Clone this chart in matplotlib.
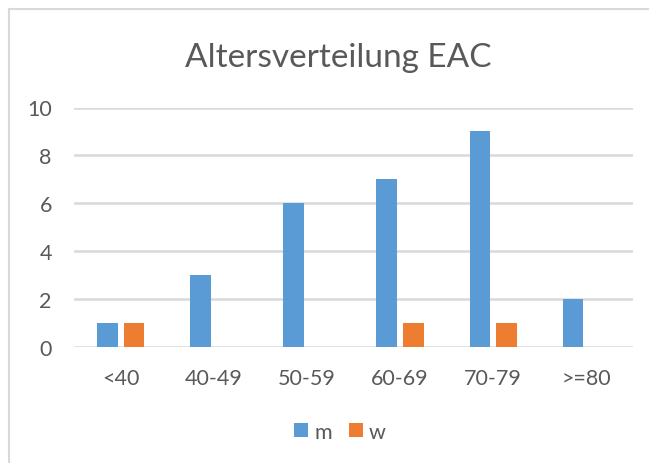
import matplotlib
matplotlib.use("Agg")
import matplotlib.pyplot as plt
from matplotlib.lines import Line2D
import numpy as np

categories = ["<40", "40-49", "50-59", "60-69", "70-79", ">=80"]
m_values = [1, 3, 6, 7, 9, 2]
w_values = [1, 0, 0, 1, 1, 0]
y_ticks = [0, 2, 4, 6, 8, 10]

BLUE = "#5B9BD5"
ORANGE = "#ED7D31"
TEXT = "#595959"
GRID = "#D9D9D9"

plt.rcParams["font.family"] = ["Lato", "DejaVu Sans"]

W, H = 649, 464
fig = plt.figure(figsize=(W / 100, H / 100), dpi=100)
fig.patch.set_facecolor("white")

# chart frame (top and left edges visible)
fig.add_artist(Line2D([9 / W, 9 / W], [0, 1 - 10 / H], color=GRID, lw=1.5))
fig.add_artist(Line2D([9 / W, 1], [1 - 10 / H, 1 - 10 / H], color=GRID, lw=1.5))

left, right = 74 / W, 633 / W
bottom, top = 1 - 348 / H, 1 - 108.5 / H
ax = fig.add_axes([left, bottom, right - left, top - bottom])

x = np.arange(len(categories))
bw = 0.222
off = 0.143
ax.bar(x - off, m_values, bw, color=BLUE, label="m", zorder=3)
ax.bar(x + off, w_values, bw, color=ORANGE, label="w", zorder=3)

ax.set_xlim(-0.5, len(categories) - 0.5)
ax.set_ylim(0, 10)
ax.set_yticks(y_ticks)
ax.set_xticks(x)
ax.set_xticklabels(categories)
ax.yaxis.grid(True, color=GRID, lw=1.8, zorder=0)
ax.set_axisbelow(True)
for s in ax.spines.values():
    s.set_visible(False)
ax.tick_params(axis="both", length=0, colors=TEXT, labelsize=15.5)
ax.tick_params(axis="x", pad=15)
ax.tick_params(axis="y", pad=16)

fig.text(338 / W, 1 - 66.7 / H, "Altersverteilung EAC", ha="center", va="baseline",
         fontsize=24, color=TEXT)

fig.legend(loc="center", bbox_to_anchor=(340 / W, 1 - 433 / H), ncol=2,
           frameon=False, fontsize=15.5, handlelength=0.63, handleheight=0.63,
           handletextpad=0.3, columnspacing=0.8, labelcolor=TEXT)

fig.savefig("out.png", dpi=100)
